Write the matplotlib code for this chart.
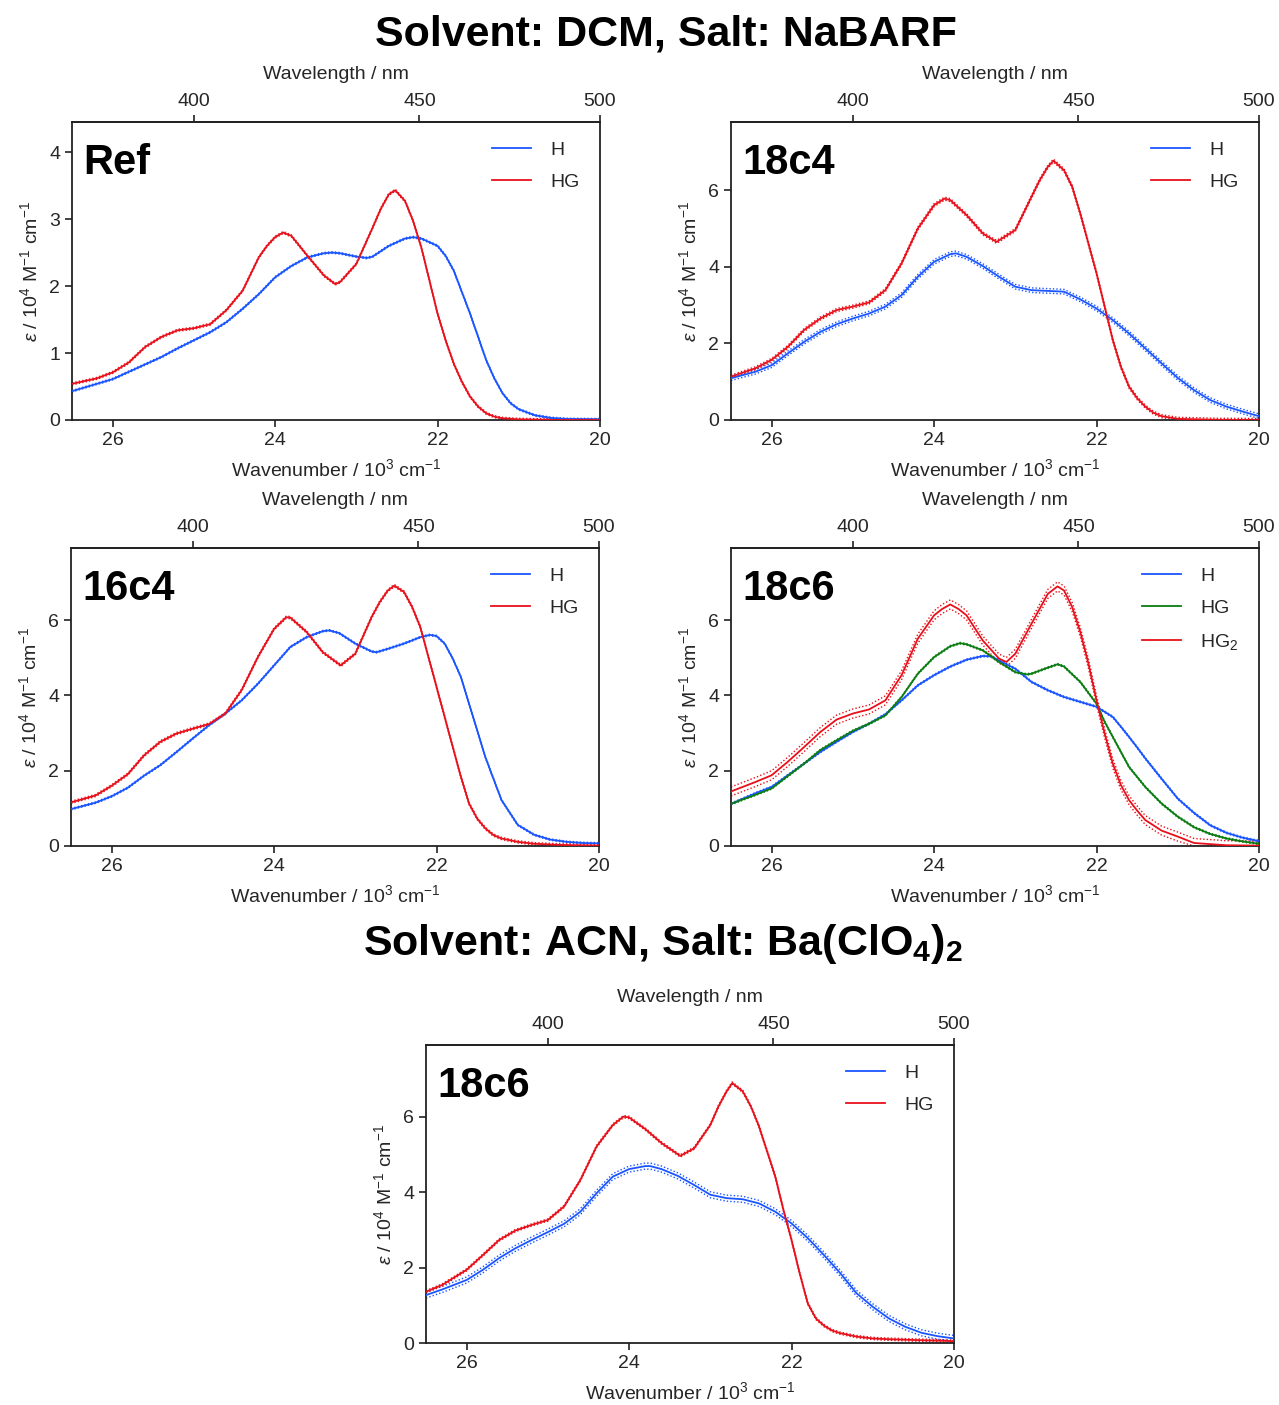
import matplotlib
matplotlib.use("Agg")
import matplotlib.pyplot as plt
import numpy as np

plt.rcParams["font.family"] = ["Liberation Sans", "DejaVu Sans"]
plt.rcParams["mathtext.fontset"] = "custom"
plt.rcParams["mathtext.rm"] = "Liberation Sans"
plt.rcParams["mathtext.it"] = "Liberation Sans:italic"
plt.rcParams["mathtext.bf"] = "Liberation Sans:bold"

# ---------------- data (wavenumber in 10^3 cm^-1, epsilon in 10^4 M^-1 cm^-1) ----------------
# DCM / NaBARF, reference host
ref_h_x = [26.5, 26.0, 25.8, 25.6, 25.4, 25.2, 25.0, 24.8, 24.6, 24.4, 24.2, 24.0, 23.8, 23.6, 23.4,
           23.3, 23.2, 23.0, 22.87, 22.8, 22.6, 22.4, 22.3, 22.2, 22.0, 21.9, 21.8, 21.7, 21.6, 21.5,
           21.4, 21.3, 21.2, 21.1, 21.0, 20.8, 20.6, 20.4, 20.0]
ref_h_y = [0.43, 0.61, 0.72, 0.83, 0.94, 1.07, 1.19, 1.31, 1.46, 1.66, 1.88, 2.13, 2.30, 2.43, 2.49,
           2.50, 2.49, 2.44, 2.42, 2.44, 2.60, 2.71, 2.73, 2.71, 2.60, 2.45, 2.23, 1.91, 1.59, 1.24,
           0.89, 0.62, 0.40, 0.25, 0.16, 0.07, 0.03, 0.015, 0.01]
ref_hg_x = [26.5, 26.2, 26.0, 25.8, 25.6, 25.4, 25.2, 25.0, 24.8, 24.6, 24.4, 24.2, 24.1, 24.0, 23.9,
            23.8, 23.6, 23.4, 23.26, 23.2, 23.0, 22.8, 22.7, 22.6, 22.52, 22.4, 22.3, 22.2, 22.0, 21.9,
            21.8, 21.7, 21.6, 21.5, 21.4, 21.3, 21.2, 21.0, 20.5, 20.0]
ref_hg_y = [0.54, 0.62, 0.71, 0.86, 1.09, 1.24, 1.34, 1.37, 1.43, 1.64, 1.93, 2.43, 2.60, 2.73, 2.80,
            2.75, 2.45, 2.16, 2.03, 2.06, 2.33, 2.87, 3.15, 3.37, 3.43, 3.27, 2.97, 2.58, 1.59, 1.19,
            0.84, 0.57, 0.35, 0.20, 0.10, 0.05, 0.025, 0.01, 0.0, 0.0]

# DCM / NaBARF, 18c4
c184_h_x = [26.5, 26.2, 26.0, 25.8, 25.6, 25.4, 25.2, 25.0, 24.8, 24.6, 24.4, 24.2, 24.0, 23.8, 23.73,
            23.6, 23.4, 23.2, 23.0, 22.8, 22.6, 22.4, 22.2, 22.0, 21.8, 21.6, 21.4, 21.2, 21.0, 20.8,
            20.6, 20.4, 20.2, 20.0]
c184_h_y = [1.09, 1.26, 1.43, 1.74, 2.04, 2.30, 2.50, 2.65, 2.78, 2.96, 3.26, 3.74, 4.13, 4.33, 4.35,
            4.26, 4.02, 3.74, 3.48, 3.39, 3.37, 3.35, 3.15, 2.91, 2.61, 2.26, 1.87, 1.48, 1.10, 0.78,
            0.52, 0.35, 0.22, 0.10]
c184_hg_x = [26.5, 26.2, 26.0, 25.8, 25.6, 25.4, 25.2, 25.0, 24.8, 24.6, 24.4, 24.2, 24.0, 23.87, 23.8,
             23.6, 23.4, 23.23, 23.0, 22.8, 22.7, 22.6, 22.53, 22.4, 22.3, 22.2, 22.0, 21.9, 21.8, 21.7,
             21.6, 21.5, 21.4, 21.3, 21.2, 21.0, 20.5, 20.0]
c184_hg_y = [1.13, 1.35, 1.57, 1.91, 2.35, 2.65, 2.87, 2.96, 3.07, 3.39, 4.09, 5.00, 5.61, 5.78, 5.74,
             5.35, 4.87, 4.65, 4.96, 5.83, 6.26, 6.61, 6.77, 6.52, 6.09, 5.39, 3.83, 2.96, 2.09, 1.39,
             0.87, 0.57, 0.35, 0.19, 0.10, 0.03, 0.005, 0.0]

# DCM / NaBARF, 16c4
c164_h_x = [26.5, 26.2, 26.0, 25.8, 25.6, 25.4, 25.2, 25.0, 24.8, 24.6, 24.4, 24.2, 24.0, 23.8, 23.6,
            23.4, 23.32, 23.2, 23.0, 22.8, 22.74, 22.6, 22.4, 22.2, 22.08, 22.0, 21.9, 21.8, 21.7, 21.6,
            21.5, 21.4, 21.3, 21.2, 21.0, 20.8, 20.6, 20.4, 20.2, 20.0]
c164_h_y = [0.98, 1.15, 1.32, 1.55, 1.87, 2.15, 2.50, 2.86, 3.21, 3.52, 3.87, 4.31, 4.80, 5.29, 5.55,
            5.71, 5.73, 5.66, 5.38, 5.17, 5.15, 5.24, 5.38, 5.55, 5.61, 5.58, 5.38, 4.98, 4.49, 3.78,
            3.08, 2.37, 1.79, 1.22, 0.56, 0.30, 0.17, 0.11, 0.08, 0.07]
c164_hg_x = [26.5, 26.2, 26.0, 25.8, 25.6, 25.4, 25.2, 25.0, 24.8, 24.6, 24.4, 24.2, 24.0, 23.85, 23.8,
             23.6, 23.4, 23.18, 23.0, 22.8, 22.7, 22.6, 22.52, 22.4, 22.3, 22.2, 22.0, 21.9, 21.8, 21.7,
             21.6, 21.5, 21.4, 21.3, 21.2, 21.0, 20.8, 20.5, 20.0]
c164_hg_y = [1.16, 1.34, 1.60, 1.91, 2.41, 2.77, 2.99, 3.12, 3.24, 3.52, 4.14, 5.02, 5.77, 6.08, 6.07,
             5.69, 5.15, 4.80, 5.11, 6.08, 6.48, 6.79, 6.92, 6.75, 6.35, 5.82, 4.23, 3.43, 2.63, 1.84,
             1.13, 0.73, 0.47, 0.29, 0.20, 0.11, 0.06, 0.03, 0.01]

# DCM / NaBARF, 18c6
c186_h_x = [26.5, 26.2, 26.0, 25.8, 25.6, 25.4, 25.2, 25.0, 24.8, 24.6, 24.4, 24.2, 24.0, 23.8, 23.6,
            23.4, 23.3, 23.2, 23.0, 22.8, 22.6, 22.4, 22.2, 22.0, 21.8, 21.7, 21.6, 21.5, 21.4, 21.2,
            21.0, 20.8, 20.6, 20.4, 20.2, 20.0]
c186_h_y = [1.12, 1.40, 1.57, 1.88, 2.19, 2.50, 2.77, 3.03, 3.25, 3.50, 3.87, 4.27, 4.54, 4.77, 4.95,
            5.05, 5.04, 4.93, 4.71, 4.36, 4.14, 3.96, 3.83, 3.70, 3.43, 3.17, 2.90, 2.62, 2.33, 1.79,
            1.26, 0.88, 0.55, 0.35, 0.22, 0.13]
c186_hg_x = [26.5, 26.2, 26.0, 25.8, 25.6, 25.4, 25.2, 25.0, 24.8, 24.6, 24.4, 24.2, 24.0, 23.8, 23.68,
             23.6, 23.4, 23.2, 23.0, 22.86, 22.8, 22.6, 22.48, 22.4, 22.2, 22.0, 21.9, 21.8, 21.7, 21.6,
             21.4, 21.2, 21.0, 20.8, 20.6, 20.4, 20.2, 20.0]
c186_hg_y = [1.12, 1.36, 1.53, 1.86, 2.19, 2.55, 2.81, 3.06, 3.25, 3.47, 3.96, 4.58, 5.02, 5.31, 5.39,
             5.36, 5.20, 4.89, 4.62, 4.56, 4.58, 4.74, 4.83, 4.77, 4.36, 3.78, 3.30, 2.90, 2.50, 2.10,
             1.57, 1.13, 0.78, 0.50, 0.32, 0.20, 0.12, 0.06]
c186_hg2_x = [26.5, 26.2, 26.0, 25.8, 25.6, 25.4, 25.2, 25.0, 24.8, 24.6, 24.4, 24.2, 24.0, 23.9, 23.8,
              23.7, 23.6, 23.4, 23.2, 23.11, 23.0, 22.8, 22.6, 22.48, 22.4, 22.3, 22.2, 22.1, 22.0, 21.9,
              21.8, 21.7, 21.6, 21.5, 21.4, 21.2, 21.0, 20.8, 20.6, 20.4, 20.0]
c186_hg2_y = [1.45, 1.70, 1.88, 2.24, 2.63, 3.03, 3.36, 3.52, 3.63, 3.87, 4.54, 5.51, 6.13, 6.30, 6.42,
              6.30, 6.13, 5.46, 4.98, 4.89, 5.11, 5.91, 6.70, 6.90, 6.79, 6.35, 5.69, 4.85, 3.87, 2.99,
              2.19, 1.62, 1.22, 0.94, 0.69, 0.41, 0.25, 0.08, 0.05, 0.02, 0.01]

# ACN / Ba(ClO4)2, 18c6
acn_h_x = [26.5, 26.3, 26.0, 25.8, 25.6, 25.4, 25.2, 25.0, 24.8, 24.6, 24.4, 24.2, 24.0, 23.8, 23.74,
           23.6, 23.4, 23.2, 23.0, 22.8, 22.6, 22.4, 22.2, 22.0, 21.8, 21.6, 21.4, 21.2, 21.0, 20.8,
           20.6, 20.4, 20.2, 20.0]
acn_h_y = [1.27, 1.42, 1.67, 1.94, 2.25, 2.51, 2.73, 2.94, 3.16, 3.48, 3.97, 4.41, 4.61, 4.69, 4.69,
           4.61, 4.43, 4.19, 3.93, 3.84, 3.81, 3.70, 3.48, 3.17, 2.78, 2.33, 1.85, 1.32, 0.96, 0.65,
           0.43, 0.27, 0.18, 0.12]
acn_hg_x = [26.5, 26.3, 26.0, 25.8, 25.6, 25.4, 25.2, 25.0, 24.8, 24.6, 24.4, 24.2, 24.07, 24.0, 23.8,
            23.6, 23.37, 23.2, 23.0, 22.9, 22.8, 22.73, 22.6, 22.5, 22.4, 22.2, 22.1, 22.0, 21.9, 21.8,
            21.7, 21.6, 21.5, 21.4, 21.2, 21.0, 20.8, 20.5, 20.0]
acn_hg_y = [1.36, 1.54, 1.94, 2.33, 2.73, 2.98, 3.13, 3.26, 3.62, 4.32, 5.21, 5.78, 6.00, 5.98, 5.67,
            5.30, 4.96, 5.16, 5.78, 6.27, 6.67, 6.89, 6.67, 6.27, 5.74, 4.41, 3.53, 2.73, 1.85, 1.05,
            0.65, 0.46, 0.33, 0.26, 0.17, 0.12, 0.10, 0.08, 0.05]

# standard deviation of the replicate measurements (dotted envelopes)
ref_h_sd, ref_hg_sd = 0.012, 0.015
c184_h_sd, c184_hg_sd = 0.06, 0.04
c164_h_sd, c164_hg_sd = 0.02, 0.03
c186_h_sd, c186_hg_sd, c186_hg2_sd = 0.02, 0.02, 0.12
acn_h_sd, acn_hg_sd = 0.08, 0.03

BLUE = "#1a55ff"
RED = "#e8101a"
GREEN = "#0b7d12"
INK = "#222222"
TXT = "#262626"

W, H = 1279, 1405
fig = plt.figure(figsize=(W / 100, H / 100), dpi=100)


def rect(l, r, t, b):
    return [l / W, 1 - b / H, (r - l) / W, (b - t) / H]


def panel(box, label, series, ymax, yticks):
    ax = fig.add_axes(rect(*box))
    for name, x, y, sd, col in series:
        x = np.asarray(x)
        y = np.asarray(y)
        ax.plot(x, y, color=col, lw=1.3, label=name, zorder=3, solid_joinstyle="round")
        ax.plot(x, y + sd, color=col, lw=1.0, ls=(0, (1, 1.5)), zorder=2)
        ax.plot(x, np.clip(y - sd, 0, None), color=col, lw=1.0, ls=(0, (1, 1.5)), zorder=2)
    ax.set_xlim(26.5, 20.0)
    ax.set_ylim(0, ymax)
    ax.set_xticks([26, 24, 22, 20])
    ax.set_yticks(yticks)
    for s in ax.spines.values():
        s.set_color(INK)
        s.set_linewidth(1.3)
    ax.tick_params(direction="out", length=5, width=1.2, color=INK,
                   labelsize=14, labelcolor=TXT, top=False, right=False)
    ax.set_xlabel(r"Wavenumber / 10$^3$ cm$^{-1}$", fontsize=14, color=TXT, labelpad=7)
    ax.set_ylabel(r"$\varepsilon$ / 10$^4$ M$^{-1}$ cm$^{-1}$", fontsize=14, color=TXT, labelpad=6)
    sec = ax.secondary_xaxis("top", functions=(lambda v: 1e4 / v, lambda l: 1e4 / l))
    sec.set_xticks([400, 450, 500])
    sec.tick_params(direction="out", length=5, width=1.2, color=INK, labelsize=14, labelcolor=TXT)
    sec.spines["top"].set_color(INK)
    sec.spines["top"].set_linewidth(1.3)
    sec.set_xlabel("Wavelength / nm", fontsize=14, color=TXT, labelpad=10)
    ax.text(0.022, 0.93, label, transform=ax.transAxes, fontsize=30, fontweight="bold",
            ha="left", va="top", color="black")
    leg = ax.legend(loc="upper right", frameon=False, fontsize=14, handlelength=2.0,
                    handletextpad=1.0, labelspacing=0.75, borderaxespad=0.6,
                    bbox_to_anchor=(0.998, 1.0))
    for t in leg.get_texts():
        t.set_color(TXT)
    return ax


panel((72, 600, 122, 420), "Ref",
      [("H", ref_h_x, ref_h_y, ref_h_sd, BLUE), ("HG", ref_hg_x, ref_hg_y, ref_hg_sd, RED)],
      4.45, [0, 1, 2, 3, 4])
panel((731, 1259, 122, 420), "18c4",
      [("H", c184_h_x, c184_h_y, c184_h_sd, BLUE), ("HG", c184_hg_x, c184_hg_y, c184_hg_sd, RED)],
      7.78, [0, 2, 4, 6])
panel((71, 599, 548, 846), "16c4",
      [("H", c164_h_x, c164_h_y, c164_h_sd, BLUE), ("HG", c164_hg_x, c164_hg_y, c164_hg_sd, RED)],
      7.92, [0, 2, 4, 6])
panel((731, 1259, 548, 846), "18c6",
      [("H", c186_h_x, c186_h_y, c186_h_sd, BLUE), ("HG", c186_hg_x, c186_hg_y, c186_hg_sd, GREEN),
       ("HG$_2$", c186_hg2_x, c186_hg2_y, c186_hg2_sd, RED)],
      7.92, [0, 2, 4, 6])
panel((426, 954, 1045, 1343), "18c6",
      [("H", acn_h_x, acn_h_y, acn_h_sd, BLUE), ("HG", acn_hg_x, acn_hg_y, acn_hg_sd, RED)],
      7.9, [0, 2, 4, 6])

fig.text(666 / W, 1 - 34 / H, "Solvent: DCM, Salt: NaBARF", ha="center", va="center",
         fontsize=31, fontweight="bold", color="black")
fig.text(663 / W, 1 - 944 / H, r"Solvent: ACN, Salt: Ba(ClO$_\mathbf{4}$)$_\mathbf{2}$",
         ha="center", va="center", fontsize=31, fontweight="bold", color="black")

fig.savefig("out.png", dpi=100)
